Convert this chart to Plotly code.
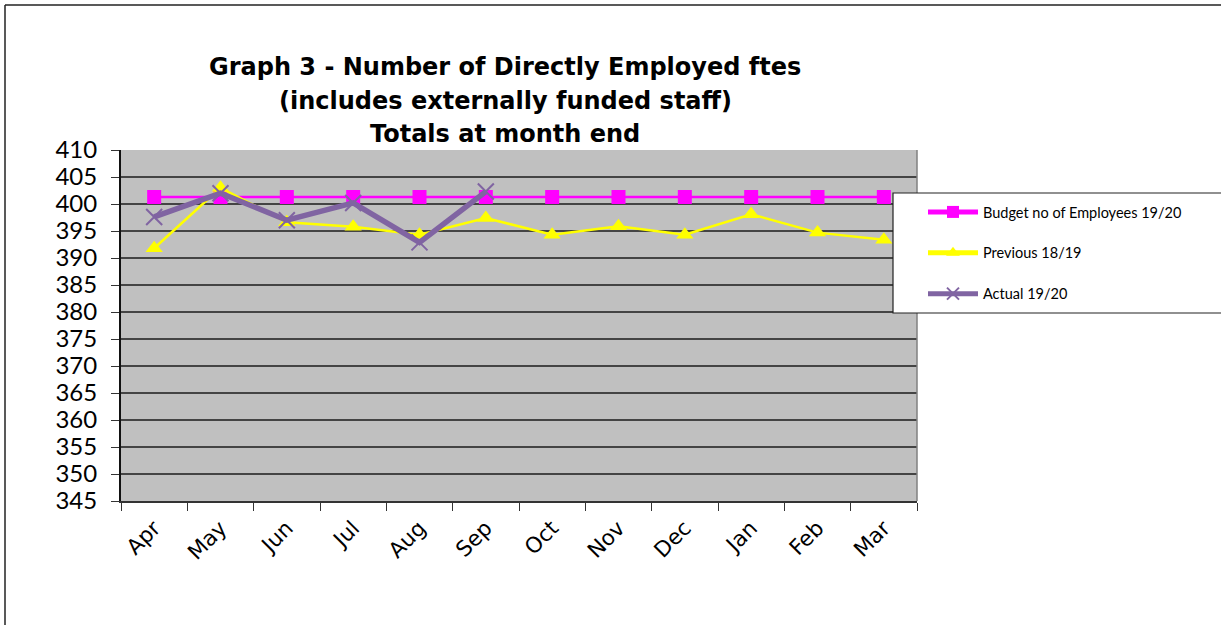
import plotly.graph_objects as go

months = ["Apr", "May", "Jun", "Jul", "Aug", "Sep", "Oct", "Nov", "Dec", "Jan", "Feb", "Mar"]
budget = [401.3] * 12
previous = [391.8, 403.0, 396.6, 395.8, 394.3, 397.4, 394.3, 395.9, 394.3, 398.1, 394.7, 393.4]
actual = [397.6, 402.0, 397.0, 400.2, 392.9, 402.3]
yticks = list(range(345, 411, 5))
title_lines = ["Graph 3 - Number of Directly Employed ftes",
               "(includes externally funded staff)",
               "Totals at month end"]

W, H = 1221, 625
L, R, T, B = 121, 917, 150, 501

def px(x):
    return (x - L) / (R - L)

def py(y):
    return (B - y) / (B - T)

fig = go.Figure()
fig.add_trace(go.Scatter(
    x=months, y=budget, name="Budget no of Employees 19/20", mode="lines+markers",
    line=dict(color="#FF00FF", width=2.5),
    marker=dict(symbol="square", size=14, color="#FF00FF"),
    legendgroup="a",
))
fig.add_trace(go.Scatter(
    x=months, y=previous, name="Previous 18/19", mode="lines+markers",
    line=dict(color="#FFFF00", width=2.5),
    marker=dict(symbol="triangle-up", size=15, color="#FFFF00"),
    legendgroup="b",
))
fig.add_trace(go.Scatter(
    x=months[:len(actual)], y=actual, name="Actual 19/20", mode="lines+markers",
    line=dict(color="#8064A2", width=5.5),
    marker=dict(symbol="x-thin-open", size=16, color="#8064A2",
                line=dict(color="#8064A2", width=2)),
    legendgroup="c",
))

annotations = []
for line, yc in zip(title_lines, [67, 101, 134]):
    annotations.append(dict(
        text="<b>" + line + "</b>",
        x=px(505), y=py(yc), xref="paper", yref="paper",
        xanchor="center", yanchor="middle", showarrow=False,
        font=dict(family="DejaVu Sans", size=24, color="black"),
    ))

fig.update_layout(
    width=W, height=H,
    margin=dict(l=L, r=W - R, t=T, b=H - B),
    paper_bgcolor="white",
    plot_bgcolor="#C0C0C0",
    showlegend=True,
    legend=dict(
        x=px(893), y=py(196), xanchor="left", yanchor="top",
        bgcolor="rgba(0,0,0,0)", borderwidth=0,
        font=dict(family="Lato", size=14.5, color="black"),
        tracegroupgap=19, indentation=30,
        itemsizing="constant", itemwidth=50,
    ),
    annotations=annotations,
    shapes=[
        dict(type="line", xref="paper", yref="paper", x0=px(5), x1=px(1225), y0=py(5), y1=py(5),
             line=dict(color="#222222", width=1.5)),
        dict(type="line", xref="paper", yref="paper", x0=px(5), x1=px(5), y0=py(5), y1=py(630),
             line=dict(color="#222222", width=1.5)),
        dict(type="line", xref="paper", yref="paper", x0=1, x1=1, y0=0, y1=1,
             line=dict(color="#808080", width=1.5)),
        dict(type="rect", xref="paper", yref="paper", x0=px(893), x1=px(1240), y0=py(193), y1=py(313),
             fillcolor="white", line=dict(color="#222222", width=1.2), layer="above"),
    ],
)

fig.update_xaxes(
    type="category", categoryorder="array", categoryarray=months,
    range=[-0.5, len(months) - 0.5],
    tickson="boundaries", ticks="outside", ticklen=8, tickcolor="#333333",
    tickangle=-45, tickfont=dict(family="DejaVu Sans", size=21.5, color="black"),
    ticklabelstandoff=4,
    showline=True, linecolor="#333333", linewidth=2,
    showgrid=False, zeroline=False,
)
fig.update_yaxes(
    range=[345, 410], tickvals=yticks, ticktext=[str(v) for v in yticks],
    ticks="outside", ticklen=8, tickcolor="#333333",
    tickfont=dict(family="Lato", size=24, color="black"),
    ticklabelstandoff=9,
    showline=True, linecolor="#111111", linewidth=2,
    showgrid=True, gridcolor="#444444", gridwidth=1.5,
    zeroline=False,
)

fig.write_html("out.html", config={"displayModeBar": False},
               post_script="document.body.style.margin='0';document.body.style.overflow='hidden';")
